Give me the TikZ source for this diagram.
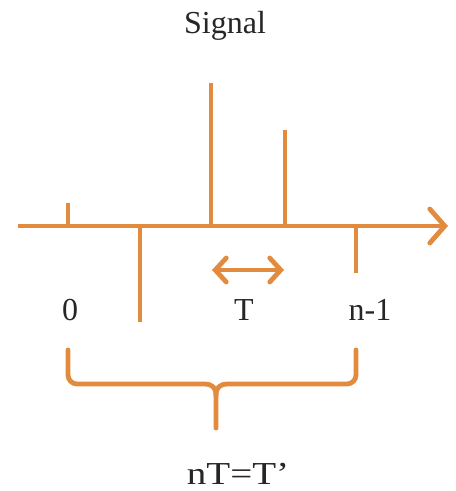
\documentclass[tikz,border=0pt]{standalone}
\usepackage{fontspec}
\setmainfont{Liberation Serif}
\usetikzlibrary{arrows.meta}
\definecolor{sig}{RGB}{226,139,62}
\begin{document}
\begin{tikzpicture}[x=1pt,y=-1pt,
  stem/.style={draw=sig,line width=4.8pt},
  lbl/.style={font=\fontsize{32}{36}\selectfont,text=black!85,inner sep=0pt,anchor=base}]
\useasboundingbox (0,0) rectangle (456,491);
% axis
\coordinate (a0) at (18,226);
\coordinate (a1) at (448,226);
\draw[stem,-{Straight Barb[length=15pt,width=34pt,line cap=round]}] (a0) -- (a1);
% stems
\coordinate (s0t) at (68,203);  \coordinate (s0b) at (68,226);
\coordinate (s1t) at (140,226); \coordinate (s1b) at (140,322);
\coordinate (s2t) at (211,83);  \coordinate (s2b) at (211,226);
\coordinate (s3t) at (285,130); \coordinate (s3b) at (285,226);
\coordinate (s4t) at (356,226); \coordinate (s4b) at (356,273);
\draw[stem] (s0t) -- (s0b);
\draw[stem] (s1t) -- (s1b);
\draw[stem] (s2t) -- (s2b);
\draw[stem] (s3t) -- (s3b);
\draw[stem] (s4t) -- (s4b);
% period arrow
\coordinate (p0) at (212,270);
\coordinate (p1) at (284,270);
\draw[stem,{Straight Barb[length=11pt,width=24pt,line cap=round]}-{Straight Barb[length=11pt,width=24pt,line cap=round]}] (p0) -- (p1);
% labels
\node[lbl] (sig) at (225,33) {Signal};
\node[lbl] (l0) at (70,320) {0};
\node[lbl] (lT) at (244,320) {T};
\node[lbl] (ln) at (370,320) {n-1};
\node[lbl] (lnT) at (238,484) {\scalebox{1.22}[1]{nT=T’}};
% brace
\draw[stem,line cap=round,line join=round]
  (68,350) -- (68,375) arc[start angle=180,end angle=90,radius=9] -- (204,384)
  .. controls (213,384) and (216,388) .. (216,396) -- (216,428);
\draw[stem,line cap=round,line join=round]
  (356,350) -- (356,375) arc[start angle=0,end angle=90,radius=9] -- (228,384)
  .. controls (219,384) and (216,388) .. (216,396);
\end{tikzpicture}
\end{document}
